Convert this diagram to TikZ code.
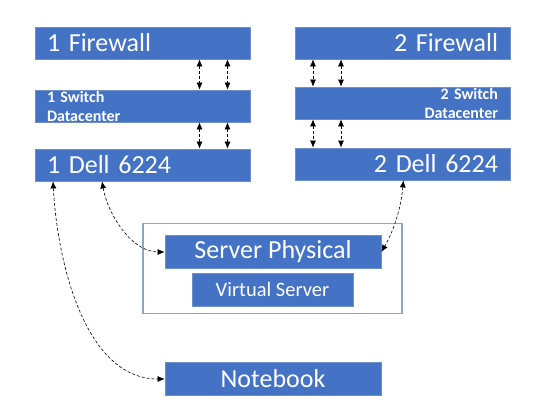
\documentclass[tikz,border=0pt]{standalone}
\usepackage{fontspec}
\setmainfont{Carlito}
\usetikzlibrary{arrows.meta}
\definecolor{boxfill}{HTML}{4472C4}
\definecolor{boxline}{HTML}{6F8FC9}
\definecolor{outerline}{HTML}{8EA5CB}
\begin{document}
\begin{tikzpicture}[x=1pt,y=-1pt,
  blk/.style={draw=boxline,line width=0.8pt,fill=boxfill,text=white,minimum height=32pt,inner sep=0pt},
  wide/.style={blk,minimum width=215pt,text width=191pt},
  big/.style={font=\fontsize{26}{28}\selectfont},
  small/.style={font=\fontsize{16}{19}\selectfont\bfseries},
  link/.style={densely dashed,line width=0.6pt,{Latex[length=7pt,width=6pt]}-{Latex[length=7pt,width=6pt]}}]
\useasboundingbox (0,0) rectangle (535,406);
% left column
\node[wide,big,align=left] (fw1) at (142.5,43) {1 Firewall};
\node[wide,small,align=left] (sw1) at (142.5,106) {1 Switch\\Datacenter};
\node[wide,big,align=left] (dl1) at (142.5,165) {1 Dell 6224};
% right column
\node[wide,big,align=right] (fw2) at (402.5,43) {2 Firewall};
\node[wide,small,align=right] (sw2) at (402.5,103) {2 Switch\\Datacenter};
\node[wide,big,align=right] (dl2) at (402.5,164) {2 Dell 6224};
% server group
\node[draw=outerline,line width=1.2pt,minimum width=259pt,minimum height=90pt,inner sep=0pt] (grp) at (272.5,268.5) {};
\node[blk,big,minimum width=216pt,minimum height=33pt] (srv) at (273,252) {Server Physical};
\node[blk,font=\fontsize{20.5}{22}\selectfont,minimum width=161pt,minimum height=33pt] (vs) at (272.5,289.5) {Virtual Server};
\node[blk,big,minimum width=216pt,minimum height=33pt] (nb) at (273,379) {Notebook};
% vertical links
\draw[link] ([xshift=57pt]fw1.south) -- ([xshift=57pt]sw1.north);
\draw[link] ([xshift=85pt]fw1.south) -- ([xshift=85pt]sw1.north);
\draw[link] ([xshift=57pt]sw1.south) -- ([xshift=57pt]dl1.north);
\draw[link] ([xshift=85pt]sw1.south) -- ([xshift=85pt]dl1.north);
\draw[link] ([xshift=-89.5pt]fw2.south) -- ([xshift=-89.5pt]sw2.north);
\draw[link] ([xshift=-61.5pt]fw2.south) -- ([xshift=-61.5pt]sw2.north);
\draw[link] ([xshift=-89.5pt]sw2.south) -- ([xshift=-89.5pt]dl2.north);
\draw[link] ([xshift=-61.5pt]sw2.south) -- ([xshift=-61.5pt]dl2.north);
% curved links
\draw[link] ([xshift=-89.5pt]dl1.south) to[out=-87,in=180,looseness=0.9] (nb.west);
\draw[link] ([xshift=-40.5pt]dl1.south) to[out=-80,in=180,looseness=0.9] (srv.west);
\draw[link] ([xshift=-107pt]dl2.south east) to[out=-95,in=60,looseness=0.9] (srv.east);
\end{tikzpicture}
\end{document}
